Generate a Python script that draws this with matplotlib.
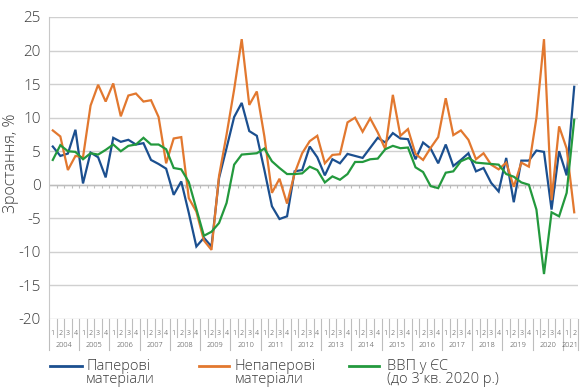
import matplotlib
matplotlib.use("Agg")
import matplotlib.pyplot as plt
from matplotlib.lines import Line2D

plt.rcParams['font.family'] = ['Open Sans', 'DejaVu Sans']
plt.rcParams['font.weight'] = 'light'
plt.rcParams['axes.unicode_minus'] = False

# quarterly growth, %, 2004 Q1 .. 2021 Q2
years = list(range(2004, 2022))
quarters = [1, 2, 3, 4] * 17 + [1, 2]

paper = [5.7, 4.3, 4.65, 8.2, 0.2, 4.8, 4.1, 1.1,
         7.0, 6.4, 6.7, 6.0, 6.2, 3.7, 3.1, 2.4,
         -1.5, 0.5, -4.2, -9.2, -7.9, -9.2, 1.0, 5.5,
         10.1, 12.2, 8.0, 7.3, 2.2, -3.2, -5.1, -4.7,
         2.0, 2.2, 5.7, 4.1, 1.4, 3.8, 3.2, 4.6,
         4.3, 4.0, 5.5, 7.0, 6.3, 7.7, 6.9, 6.8,
         3.8, 6.3, 5.4, 3.2, 6.0, 2.8, 3.7, 4.7,
         2.0, 2.5, 0.3, -1.0, 4.0, -2.6, 3.6, 3.6,
         5.1, 4.9, -3.7, 5.0, 1.4, 14.6]

nonpaper = [8.1, 7.2, 2.2, 4.3, 4.1, 11.8, 14.9, 12.4,
            15.1, 10.2, 13.3, 13.6, 12.4, 12.6, 10.1, 3.2,
            6.9, 7.1, -2.0, -4.0, -8.3, -9.7, 1.3, 7.5,
            14.2, 21.7, 11.9, 13.9, 7.2, -1.2, 0.9, -2.8,
            1.7, 4.7, 6.5, 7.3, 3.2, 4.45, 4.55, 9.3,
            10.0, 7.9, 9.9, 7.8, 5.3, 13.4, 7.3, 8.3,
            4.6, 3.7, 5.5, 7.1, 12.9, 7.4, 8.1, 6.7,
            3.8, 4.7, 3.0, 2.3, 3.3, -0.3, 3.3, 2.7,
            10.0, 21.7, -2.3, 8.7, 5.4, -4.1]

gdp_eu = [3.7, 5.9, 5.0, 4.9, 3.8, 4.7, 4.5, 5.2,
          6.0, 5.0, 5.8, 6.0, 7.0, 6.0, 6.0, 5.3,
          2.5, 2.3, 0.4, -3.6, -7.6, -7.0, -5.7, -2.7,
          3.0, 4.5, 4.6, 4.7, 5.4, 3.5, 2.5, 1.6,
          1.6, 1.7, 2.7, 2.2, 0.35, 1.25, 0.75, 1.6,
          3.4, 3.4, 3.8, 3.9, 5.3, 5.8, 5.45, 5.55,
          2.6, 1.9, -0.2, -0.5, 1.8, 2.0, 3.5, 4.0,
          3.3, 3.2, 3.1, 3.0, 1.6, 1.2, 0.35, 0.0,
          -3.7, -13.3, -4.1, -4.7, -1.2, 9.7]

labels = ["Паперові\nматеріали", "Непаперові\nматеріали",
          "ВВП у ЄС\n(до 3 кв. 2020 р.)"]
colors = ["#1b4f8f", "#e2782f", "#23993d"]
txt = '#3c3c3c'

W, H = 587, 388
fig = plt.figure(figsize=(W / 100, H / 100), dpi=100)
ax = fig.add_axes([49 / W, 1 - 319 / H, (578 - 49) / W, (319 - 17) / H])

x = list(range(len(quarters)))
for i, series in enumerate([paper, nonpaper, gdp_eu]):
    ax.plot(x, series, color=colors[i], lw=1.6, zorder=3 + i,
            solid_joinstyle='miter')

ax.set_xlim(-0.5, len(x) - 0.5)
ax.set_ylim(-20, 25)
yt = list(range(-20, 26, 5))
ax.set_yticks(yt)
ax.set_yticklabels([str(v) for v in yt], fontsize=11, color=txt)
ax.tick_params(axis='y', length=0, pad=6)
ax.set_xticks([])
for s in ['top', 'right', 'bottom']:
    ax.spines[s].set_visible(False)
ax.spines['left'].set_color('#c8c8c8')
ax.grid(axis='y', color='#d0d0d0', lw=1.0)
ax.set_axisbelow(True)

# zero line with quarter ticks
grey = '#bdbdbd'
ax.axhline(0, color=grey, lw=1.0, zorder=2)
bounds = [b - 0.5 for b in range(len(x) + 1)]
ax.vlines(bounds, -0.45, 0, color=grey, lw=0.8, zorder=2)

# two-level category axis at the bottom
trans = ax.get_xaxis_transform()
for i, q in enumerate(quarters):
    ax.text(i, -0.046, str(q), transform=trans, ha='center', va='center',
            fontsize=5, color=txt, clip_on=False)
for b in range(len(x) + 1):
    low = -0.103 if (b % 4 == 0 or b == len(x)) else -0.06
    ax.plot([b - 0.5, b - 0.5], [0, low], transform=trans, color=grey,
            lw=0.8, clip_on=False)
for k, yr in enumerate(years):
    idx = [i for i in range(len(x)) if i // 4 == k]
    ax.text(sum(idx) / len(idx), -0.085, str(yr), transform=trans,
            ha='center', va='center', fontsize=5.3, color=txt,
            clip_on=False)

fig.text(11 / W, 1 - 163 / H, "Зростання, %", rotation=90, ha='center',
         va='center', fontsize=11.5, color=txt)

# legend, handle aligned with first text line
leg = [(50, 82, 86), (199, 229, 235), (349, 379, 387)]
for (x0, x1, xt), lab, c in zip(leg, labels, colors):
    fig.add_artist(Line2D([x0 / W, x1 / W], [1 - 366 / H] * 2, color=c, lw=2))
    l1, l2 = lab.split("\n")
    fig.text(xt / W, 1 - 366 / H, l1, ha='left', va='center', fontsize=10.5,
             color=txt)
    fig.text(xt / W, 1 - 379.5 / H, l2, ha='left', va='center', fontsize=10.5,
             color=txt)

fig.savefig("out.png", dpi=100)
